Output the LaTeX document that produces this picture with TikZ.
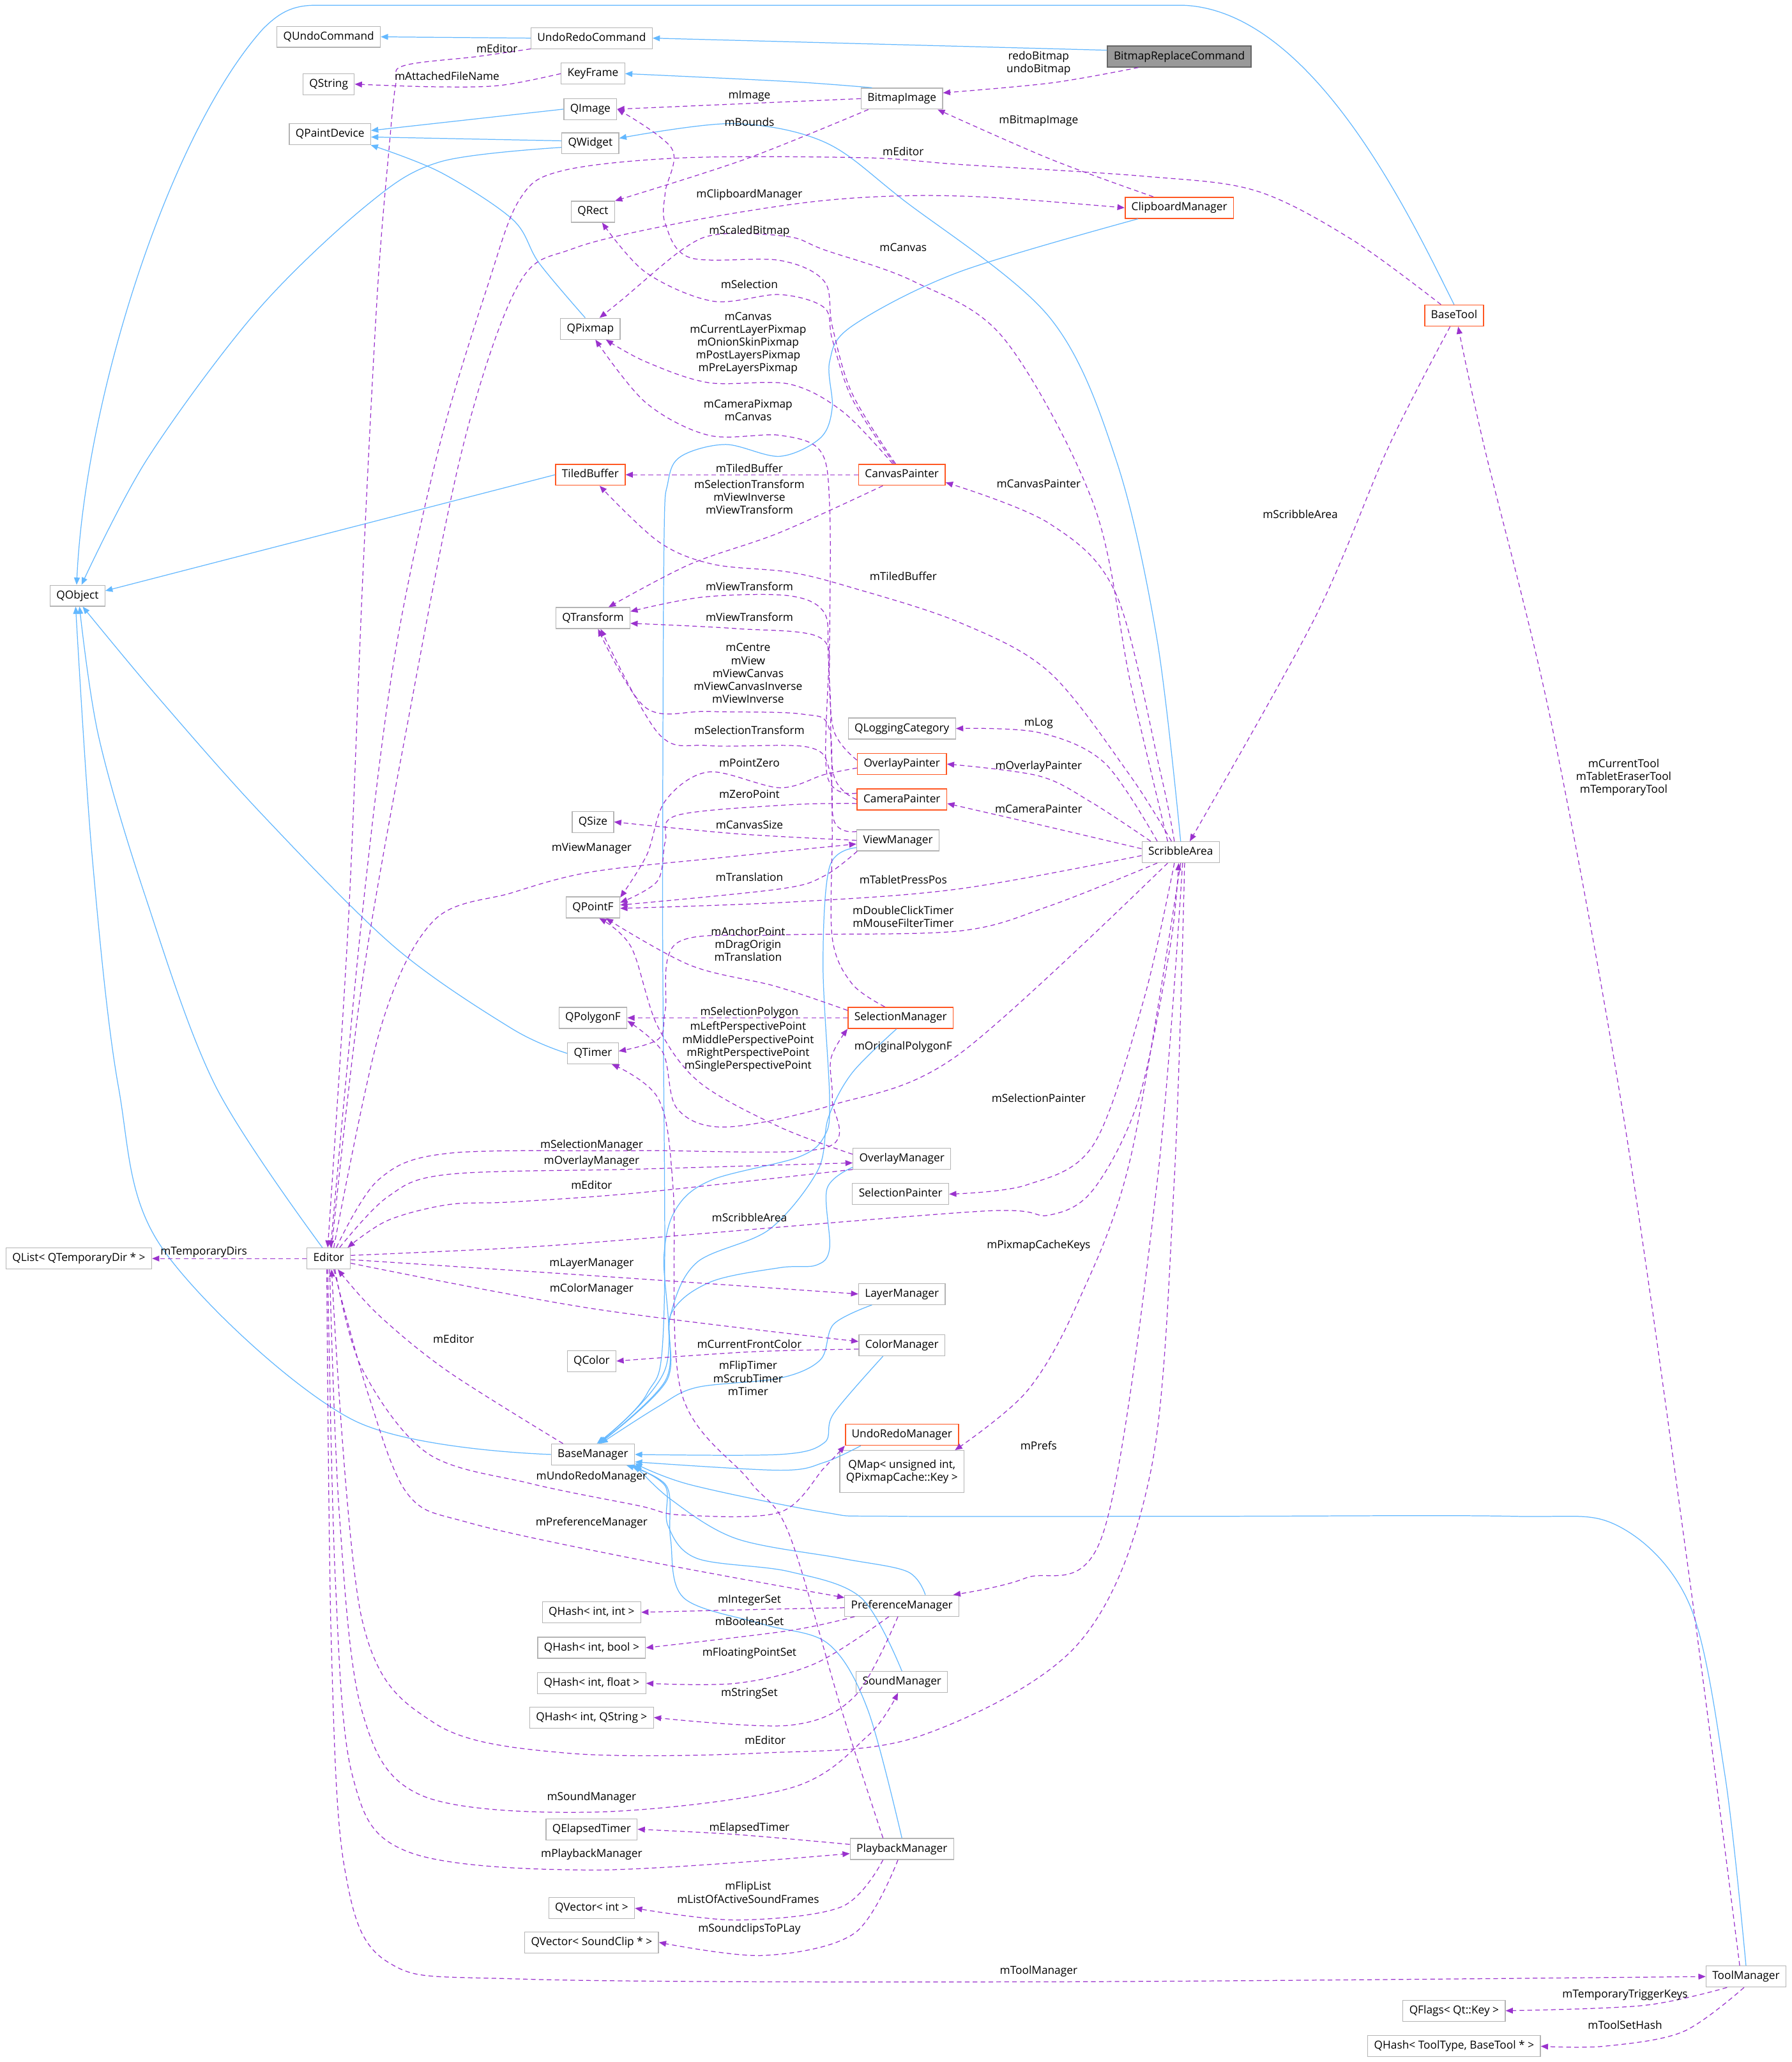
\documentclass[tikz,border=0pt]{standalone}
\usepackage{fontspec}
\setmainfont{Open Sans}
\usetikzlibrary{arrows.meta}
\definecolor{inhblue}{HTML}{63B8FF}
\definecolor{depviolet}{HTML}{9A32CD}
\definecolor{boxgray}{HTML}{B4B4B4}
\definecolor{boxorange}{HTML}{FF5722}
\definecolor{selfill}{HTML}{999999}
\definecolor{selborder}{HTML}{666666}
\newcommand{\dfont}{\fontsize{8.4}{9.8}\selectfont}
\begin{document}
\begin{tikzpicture}[x=1pt,y=-1pt,
  cls/.style={draw=boxgray, fill=white, line width=0.6pt, font=\dfont, inner xsep=4.8pt, inner ysep=0pt, minimum height=16pt, text height=6.3pt, text depth=1.9pt},
  hot/.style={cls, draw=boxorange, line width=0.8pt},
  selfcls/.style={cls, draw=selborder, fill=selfill, line width=0.7pt},
  twoline/.style={draw=boxgray, fill=white, line width=0.6pt, font=\dfont, align=center, inner xsep=4.8pt, inner ysep=3pt, minimum height=32pt},
  lbl/.style={font=\dfont, align=center, inner sep=0pt},
  inh/.style={draw=inhblue, line width=0.6pt, smooth, tension=0.55, -{Triangle[length=5.5pt,width=4.4pt]}},
  dep/.style={draw=depviolet, line width=0.6pt, smooth, tension=0.55, dash pattern=on 3.5pt off 2.5pt, -{Triangle[length=5.5pt,width=4.4pt]}}]
\fill[white] (0,0) rectangle (1363,1568);
\useasboundingbox (0,0) rectangle (1363,1568);

% ---------- nodes ----------
\node[cls] (QUndoCommand) at (250,28) {QUndoCommand};
\node[cls] (UndoRedoCommand) at (450,29) {UndoRedoCommand};
\node[selfcls] (BitmapReplaceCommand) at (897,43) {BitmapReplaceCommand};
\node[cls] (QString) at (250,64) {QString};
\node[cls] (KeyFrame) at (451,56) {KeyFrame};
\node[cls] (QImage) at (449,83) {QImage};
\node[cls] (BitmapImage) at (686,75) {BitmapImage};
\node[cls] (QPaintDevice) at (251,102) {QPaintDevice};
\node[cls] (QWidget) at (449,109) {QWidget};
\node[cls] (QRect) at (451,161) {QRect};
\node[hot] (ClipboardManager) at (897,158) {ClipboardManager};
\node[hot] (BaseTool) at (1106,240) {BaseTool};
\node[cls] (QPixmap) at (449,250) {QPixmap};
\node[hot] (TiledBuffer) at (449,361) {TiledBuffer};
\node[hot] (CanvasPainter) at (686,361) {CanvasPainter};
\node[cls] (QObject) at (59,453) {QObject};
\node[cls] (QTransform) at (451,470) {QTransform};
\node[cls] (QLoggingCategory) at (686,554) {QLoggingCategory};
\node[hot] (OverlayPainter) at (686,581) {OverlayPainter};
\node[hot] (CameraPainter) at (686,608) {CameraPainter};
\node[cls] (QSize) at (451,625) {QSize};
\node[cls] (ViewManager) at (683,639) {ViewManager};
\node[cls] (ScribbleArea) at (898,648) {ScribbleArea};
\node[cls] (QPointF) at (451,690) {QPointF};
\node[cls] (QPolygonF) at (451,774) {QPolygonF};
\node[hot] (SelectionManager) at (685,774) {SelectionManager};
\node[cls] (QTimer) at (451,801) {QTimer};
\node[cls] (OverlayManager) at (686,881) {OverlayManager};
\node[cls] (SelectionPainter) at (685,908) {SelectionPainter};
\node[cls] (QList) at (60,957) {QList< QTemporaryDir * >};
\node[cls] (Editor) at (250,957) {Editor};
\node[cls] (LayerManager) at (686,984) {LayerManager};
\node[cls] (QColor) at (450,1035) {QColor};
\node[cls] (ColorManager) at (686,1023) {ColorManager};
\node[hot] (UndoRedoManager) at (686,1091) {UndoRedoManager};
\node[twoline] (QMap) at (686,1119) {QMap< unsigned int,\\ QPixmapCache::Key >};
\node[cls] (BaseManager) at (451,1106) {BaseManager};
\node[cls] (PreferenceManager) at (686,1221) {PreferenceManager};
\node[cls] (QHashII) at (450,1226) {QHash< int, int >};
\node[cls] (QHashIB) at (450,1253) {QHash< int, bool >};
\node[cls] (QHashIF) at (450,1280) {QHash< int, float >};
\node[cls] (SoundManager) at (686,1279) {SoundManager};
\node[cls] (QHashIS) at (450,1306) {QHash< int, QString >};
\node[cls] (QElapsedTimer) at (450,1391) {QElapsedTimer};
\node[cls] (PlaybackManager) at (686,1406) {PlaybackManager};
\node[cls] (QVectorI) at (450,1451) {QVector< int >};
\node[cls] (QVectorS) at (450,1477) {QVector< SoundClip * >};
\node[cls] (ToolManager) at (1328,1503) {ToolManager};
\node[cls] (QFlags) at (1106,1529) {QFlags< Qt::Key >};
\node[cls] (QHashT) at (1106,1556) {QHash< ToolType, BaseTool * >};

% ---------- inheritance ----------
\draw[inh] (UndoRedoCommand.west) -- (QUndoCommand.east);
\draw[inh] (BitmapReplaceCommand.175) -- (UndoRedoCommand.east);
\draw[inh] plot coordinates {(BitmapImage.160) (600,62) (KeyFrame.east)};
\draw[inh] (QImage.west) -- (QPaintDevice.5);
\draw[inh] (QWidget.175) -- (QPaintDevice.-4);
\draw[inh] plot coordinates {(QPixmap.115) (410,200) (390,167) (335,131) (QPaintDevice.-15)};
\draw[inh] plot coordinates {(QWidget.188) (335,123) (279,156) (195,237) (112,349) (QObject.70)};
\draw[inh] plot coordinates {(ScribbleArea.north) (880,486) (849,350) (798,241) (687,152) (627,108) (557,94) (QWidget.10)};
\draw[inh] (BaseTool.north) .. controls (1075,170) and (1000,8) .. (900,4) -- (240,4) .. controls (222,4) and (212,10) .. (200,22) .. controls (130,100) and (65,300) .. (QObject.95);
\draw[inh] (TiledBuffer.west) -- (QObject.10);
\draw[inh] plot coordinates {(QTimer.west) (389,782) (300,720) (200,620) (120,530) (QObject.-65)};
\draw[inh] plot coordinates {(Editor.120) (164,826) (110,680) (75,560) (QObject.-80)};
\draw[inh] plot coordinates {(BaseManager.west) (267,1079) (124,950) (90,826) (70,650) (QObject.-100)};
\draw[inh] plot coordinates {(ClipboardManager.-165) (729,207) (648,248) (631,275) (633,310) (624,333) (593,347) (552,338) (518,347) (508,367) (505,418) (504,700) (505,1000) (492,1060) (BaseManager.70)};
\draw[inh] plot coordinates {(ViewManager.-170) (631,659) (626,734) (631,836) (627,864) (607,880) (542,897) (515,918) (505,955) (506,1041) (BaseManager.65)};
\draw[inh] plot coordinates {(SelectionManager.-110) (648,816) (630,850) (622,890) (585,935) (530,960) (510,1000) (506,1050) (BaseManager.60)};
\draw[inh] plot coordinates {(OverlayManager.-170) (629,904) (631,949) (621,962) (593,964) (540,975) (510,1000) (507,1050) (BaseManager.60)};
\draw[inh] plot coordinates {(LayerManager.-160) (634,1007) (624,1034) (593,1048) (530,1055) (500,1070) (BaseManager.55)};
\draw[inh] plot coordinates {(ColorManager.-150) (634,1075) (627,1097) (593,1106) (BaseManager.east)};
\draw[inh] plot coordinates {(UndoRedoManager.-165) (627,1112) (593,1118) (BaseManager.-10)};
\draw[inh] plot coordinates {(ToolManager.north) (1312,1350) (1285,1220) (1230,1160) (1150,1153) (923,1153) (678,1153) (627,1150) (525,1129) (BaseManager.-12)};
\draw[inh] plot coordinates {(PreferenceManager.25) (690,1195) (640,1185) (560,1170) (510,1140) (BaseManager.-14)};
\draw[inh] plot coordinates {(SoundManager.north) (655,1215) (600,1195) (530,1185) (508,1160) (506,1130) (BaseManager.-16)};
\draw[inh] plot coordinates {(PlaybackManager.north) (660,1300) (630,1250) (580,1235) (520,1215) (510,1170) (507,1130) (BaseManager.-18)};

% ---------- usage ----------
\draw[dep] plot coordinates {(UndoRedoCommand.-170) (363,43) (307,50) (301,64) (296,112) (287,223) (276,437) (265,700) (Editor.95)};
\draw[dep] plot coordinates {(KeyFrame.west) (380,65) (330,66) (QString.east)};
\draw[dep] plot coordinates {(BitmapReplaceCommand.-165) (800,63) (BitmapImage.8)};
\draw[dep] (BitmapImage.west) -- (QImage.east);
\draw[dep] plot coordinates {(BitmapImage.-162) (567,121) (QRect.north east)};
\draw[dep] plot coordinates {(ClipboardManager.157) (799,121) (BitmapImage.-17)};
\draw[dep] plot coordinates {(BaseTool.140) (1028,182) (955,145) (870,134) (729,125) (659,120) (520,120) (427,130) (395,152) (371,217) (334,340) (300,500) (275,700) (Editor.80)};
\draw[dep] plot coordinates {(Editor.75) (275,750) (310,550) (352,340) (394,217) (436,189) (520,169) (613,154) (683,149) (752,150) (ClipboardManager.west)};
\draw[dep] plot coordinates {(CanvasPainter.120) (648,299) (633,248) (627,214) (593,198) (525,196) (506,170) (506,146) (511,113) (QImage.east)};
\draw[dep] plot coordinates {(CanvasPainter.125) (648,303) (633,258) (627,234) (593,224) (542,229) (491,207) (QRect.-50)};
\draw[dep] plot coordinates {(ScribbleArea.140) (860,520) (832,384) (764,258) (695,214) (627,190) (600,180) (548,178) (520,189) (473,228) (QPixmap.50)};
\draw[dep] plot coordinates {(CanvasPainter.130) (641,313) (600,292) (539,291) (491,275) (QPixmap.-35)};
\draw[dep] plot coordinates {(CameraPainter.172) (629,589) (631,486) (631,384) (624,343) (593,331) (539,331) (491,306) (QPixmap.-65)};
\draw[dep] (CanvasPainter.west) -- (TiledBuffer.east);
\draw[dep] plot coordinates {(CanvasPainter.-150) (593,405) (525,429) (QTransform.35)};
\draw[dep] plot coordinates {(ScribbleArea.120) (883,589) (849,452) (798,398) (CanvasPainter.-10)};
\draw[dep] plot coordinates {(BaseTool.-110) (1056,340) (1000,470) (ScribbleArea.50)};
\draw[dep] plot coordinates {(ScribbleArea.130) (859,589) (798,511) (729,473) (645,446) (600,435) (542,429) (501,412) (TiledBuffer.-50)};
\draw[dep] plot coordinates {(OverlayPainter.175) (634,555) (630,500) (627,466) (600,453) (535,454) (QTransform.10)};
\draw[dep] plot coordinates {(CameraPainter.180) (634,589) (631,520) (624,485) (560,478) (QTransform.-8)};
\draw[dep] plot coordinates {(ViewManager.168) (634,623) (631,555) (610,543) (539,541) (491,538) (QTransform.-65)};
\draw[dep] plot coordinates {(SelectionManager.145) (648,748) (633,713) (633,632) (631,586) (614,568) (539,567) (501,558) (QTransform.-55)};
\draw[dep] plot coordinates {(OverlayPainter.-175) (627,589) (593,599) (539,587) (506,609) (492,650) (QPointF.20)};
\draw[dep] plot coordinates {(CameraPainter.-175) (600,612) (515,620) (506,640) (500,670) (QPointF.10)};
\draw[dep] plot coordinates {(ViewManager.west) (560,634) (QSize.east)};
\draw[dep] plot coordinates {(Editor.65) (290,780) (330,700) (389,679) (450,663) (550,652) (ViewManager.-175)};
\draw[dep] plot coordinates {(ViewManager.-165) (627,666) (593,676) (QPointF.5)};
\draw[dep] plot coordinates {(ScribbleArea.-175) (729,676) (600,686) (QPointF.-2)};
\draw[dep] plot coordinates {(ScribbleArea.-155) (798,689) (729,708) (593,711) (515,717) (506,768) (501,790) (QTimer.5)};
\draw[dep] plot coordinates {(SelectionManager.172) (590,750) (525,734) (QPointF.-40)};
\draw[dep] (SelectionManager.west) -- (QPolygonF.east);
\draw[dep] plot coordinates {(OverlayManager.175) (593,857) (532,823) (500,780) (480,720) (QPointF.-60)};
\draw[dep] plot coordinates {(ScribbleArea.-140) (729,802) (634,840) (552,857) (515,843) (504,800) (QPolygonF.-5)};
\draw[dep] plot coordinates {(PlaybackManager.150) (640,1300) (600,1166) (570,1126) (518,1058) (512,904) (501,836) (QTimer.-30)};
\draw[dep] plot coordinates {(Editor.55) (288,897) (341,877) (486,875) (627,873) (633,836) (632,805) (SelectionManager.south west)};
\draw[dep] plot coordinates {(Editor.45) (295,910) (341,893) (486,889) (OverlayManager.-175)};
\draw[dep] plot coordinates {(OverlayManager.south west) (486,907) (389,914) (341,916) (295,928) (Editor.30)};
\draw[dep] plot coordinates {(Editor.8) (389,949) (486,942) (747,921) (798,924) (832,904) (866,836) (890,720) (ScribbleArea.-100)};
\draw[dep] plot coordinates {(ScribbleArea.-120) (870,760) (832,870) (781,901) (SelectionPainter.east)};
\draw[dep] plot coordinates {(ScribbleArea.-90) (860,880) (820,990) (781,1058) (QMap.22)};
\draw[dep] plot coordinates {(ScribbleArea.-80) (880,900) (839,1166) (780,1200) (PreferenceManager.12)};
\draw[dep] plot coordinates {(ScribbleArea.-70) (893,900) (875,1120) (820,1250) (700,1320) (580,1333) (430,1333) (330,1310) (275,1230) (Editor.-75)};
\draw[dep] (Editor.west) -- (QList.east);
\draw[dep] plot coordinates {(Editor.-3) (450,970) (LayerManager.west)};
\draw[dep] plot coordinates {(Editor.-12) (450,995) (ColorManager.175)};
\draw[dep] plot coordinates {(ColorManager.-175) (570,1028) (QColor.east)};
\draw[dep] plot coordinates {(BaseManager.160) (341,1043) (288,1000) (Editor.-50)};
\draw[dep] plot coordinates {(Editor.-60) (275,1040) (325,1105) (403,1128) (486,1145) (518,1152) (593,1150) (627,1116) (UndoRedoManager.south west)};
\draw[dep] plot coordinates {(Editor.-65) (280,1060) (310,1136) (357,1158) (486,1186) (PreferenceManager.172)};
\draw[dep] plot coordinates {(Editor.-85) (258,1150) (275,1300) (320,1365) (450,1378) (600,1360) (660,1320) (SoundManager.-110)};
\draw[dep] plot coordinates {(Editor.-95) (255,1200) (268,1350) (310,1408) (450,1422) (PlaybackManager.-175)};
\draw[dep] plot coordinates {(Editor.-100) (252,1250) (262,1420) (295,1492) (400,1505) (800,1507) (ToolManager.west)};
\draw[dep] plot coordinates {(PreferenceManager.-178) (570,1224) (QHashII.east)};
\draw[dep] plot coordinates {(PreferenceManager.-167) (600,1240) (QHashIB.east)};
\draw[dep] plot coordinates {(PreferenceManager.-140) (620,1265) (560,1280) (QHashIF.east)};
\draw[dep] plot coordinates {(PreferenceManager.-110) (650,1290) (600,1312) (QHashIS.east)};
\draw[dep] plot coordinates {(PlaybackManager.175) (560,1395) (QElapsedTimer.east)};
\draw[dep] plot coordinates {(PlaybackManager.-150) (640,1450) (560,1460) (QVectorI.east)};
\draw[dep] plot coordinates {(PlaybackManager.-110) (650,1470) (580,1487) (QVectorS.east)};
\draw[dep] plot coordinates {(ToolManager.120) (1285,1200) (1235,850) (1180,550) (1129,340) (BaseTool.-70)};
\draw[dep] plot coordinates {(ToolManager.-150) (1250,1525) (QFlags.east)};
\draw[dep] plot coordinates {(ToolManager.-100) (1280,1545) (1220,1556) (QHashT.east)};
\draw[dep] plot coordinates {(ScribbleArea.155) (840,580) (790,557) (QLoggingCategory.east)};
\draw[dep] plot coordinates {(ScribbleArea.160) (830,610) (790,590) (OverlayPainter.east)};
\draw[dep] plot coordinates {(ScribbleArea.175) (790,627) (CameraPainter.-5)};

% ---------- labels ----------
\node[lbl] (l01) at (378,37) {mEditor};
\node[lbl] (l02) at (340,58) {mAttachedFileName};
\node[lbl] (l03) at (790,48) {redoBitmap\\undoBitmap};
\node[lbl] (l04) at (570,73) {mImage};
\node[lbl] (l05) at (570,93) {mBounds};
\node[lbl] (l06) at (790,92) {mBitmapImage};
\node[lbl] (l07) at (687,115) {mEditor};
\node[lbl] (l08) at (570,148) {mClipboardManager};
\node[lbl] (l09) at (570,176) {mScaledBitmap};
\node[lbl] (l10) at (687,188) {mCanvas};
\node[lbl] (l11) at (570,216) {mSelection};
\node[lbl] (l12) at (569,261) {mCanvas\\mCurrentLayerPixmap\\mOnionSkinPixmap\\mPostLayersPixmap\\mPreLayersPixmap};
\node[lbl] (l13) at (569,312) {mCameraPixmap\\mCanvas};
\node[lbl] (l14) at (570,356) {mTiledBuffer};
\node[lbl] (l15) at (570,378) {mSelectionTransform\\mViewInverse\\mViewTransform};
\node[lbl] (l16) at (790,368) {mCanvasPainter};
\node[lbl] (l17) at (989,391) {mScribbleArea};
\node[lbl] (l18) at (687,438) {mTiledBuffer};
\node[lbl] (l19) at (570,446) {mViewTransform};
\node[lbl] (l20) at (570,469) {mViewTransform};
\node[lbl] (l21) at (569,512) {mCentre\\mView\\mViewCanvas\\mViewCanvasInverse\\mViewInverse};
\node[lbl] (l22) at (790,550) {mLog};
\node[lbl] (l23) at (570,555) {mSelectionTransform};
\node[lbl] (l24) at (570,580) {mPointZero};
\node[lbl] (l25) at (790,583) {mOverlayPainter};
\node[lbl] (l26) at (1235,591) {mCurrentTool\\mTabletEraserTool\\mTemporaryTool};
\node[lbl] (l27) at (570,604) {mZeroPoint};
\node[lbl] (l28) at (790,615) {mCameraPainter};
\node[lbl] (l29) at (570,627) {mCanvasSize};
\node[lbl] (l30) at (450,645) {mViewManager};
\node[lbl] (l31) at (570,667) {mTranslation};
\node[lbl] (l32) at (687,669) {mTabletPressPos};
\node[lbl] (l33) at (687,697) {mDoubleClickTimer\\mMouseFilterTimer};
\node[lbl] (l34) at (569,718) {mAnchorPoint\\mDragOrigin\\mTranslation};
\node[lbl] (l35) at (570,770) {mSelectionPolygon};
\node[lbl] (l36) at (569,796) {mLeftPerspectivePoint\\mMiddlePerspectivePoint\\mRightPerspectivePoint\\mSinglePerspectivePoint};
\node[lbl] (l37) at (687,796) {mOriginalPolygonF};
\node[lbl] (l38) at (790,835) {mSelectionPainter};
\node[lbl] (l39) at (450,871) {mSelectionManager};
\node[lbl] (l40) at (450,883) {mOverlayManager};
\node[lbl] (l41) at (450,901) {mEditor};
\node[lbl] (l42) at (570,926) {mScribbleArea};
\node[lbl] (l43) at (790,947) {mPixmapCacheKeys};
\node[lbl] (l44) at (155,952) {mTemporaryDirs};
\node[lbl] (l45) at (450,961) {mLayerManager};
\node[lbl] (l46) at (450,980) {mColorManager};
\node[lbl] (l47) at (345,1018) {mEditor};
\node[lbl] (l48) at (570,1022) {mCurrentFrontColor};
\node[lbl] (l49) at (569,1048) {mFlipTimer\\mScrubTimer\\mTimer};
\node[lbl] (l50) at (790,1099) {mPrefs};
\node[lbl] (l51) at (450,1123) {mUndoRedoManager};
\node[lbl] (l52) at (450,1158) {mPreferenceManager};
\node[lbl] (l53) at (570,1217) {mIntegerSet};
\node[lbl] (l54) at (570,1233) {mBooleanSet};
\node[lbl] (l55) at (570,1257) {mFloatingPointSet};
\node[lbl] (l56) at (570,1288) {mStringSet};
\node[lbl] (l57) at (582,1323) {mEditor};
\node[lbl] (l58) at (450,1367) {mSoundManager};
\node[lbl] (l59) at (570,1390) {mElapsedTimer};
\node[lbl] (l60) at (450,1410) {mPlaybackManager};
\node[lbl] (l61) at (569,1439) {mFlipList\\mListOfActiveSoundFrames};
\node[lbl] (l62) at (570,1467) {mSoundclipsToPLay};
\node[lbl] (l63) at (790,1499) {mToolManager};
\node[lbl] (l64) at (1236,1517) {mTemporaryTriggerKeys};
\node[lbl] (l65) at (1236,1540) {mToolSetHash};
\end{tikzpicture}
\end{document}
